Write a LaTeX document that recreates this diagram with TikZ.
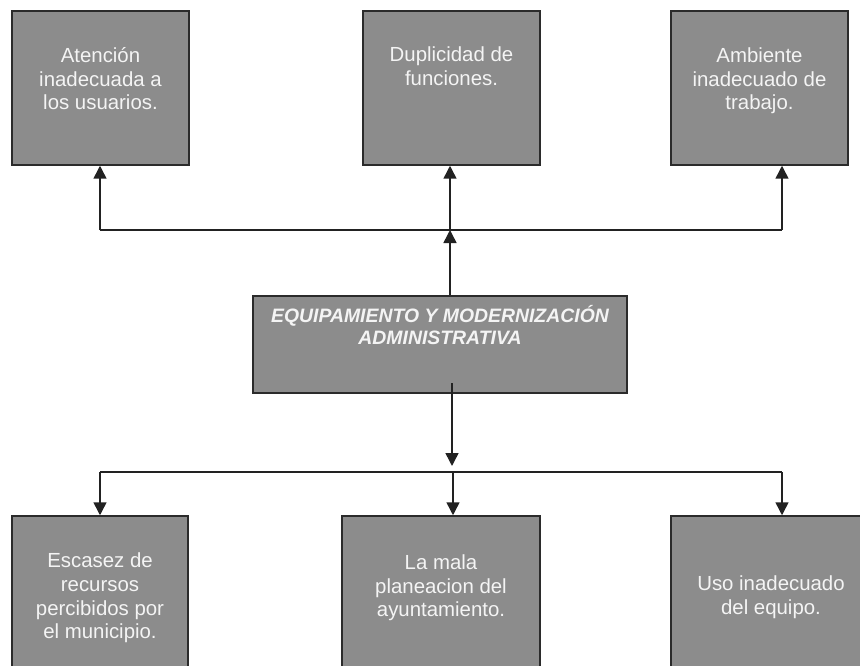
\documentclass[tikz,border=0pt]{standalone}
\usepackage{fontspec}
\setmainfont{Liberation Sans}
\usetikzlibrary{arrows.meta,calc}
\definecolor{boxfill}{HTML}{8C8C8C}
\definecolor{boxline}{HTML}{2B2B2B}
\definecolor{txtcol}{HTML}{F4F4F4}
\definecolor{linecol}{HTML}{222222}
\begin{document}
\begin{tikzpicture}[x=1pt,y=-1pt,
  box/.style={draw=boxline, line width=1.5pt, fill=boxfill, inner sep=0pt, rectangle},
  lbl/.style={text=txtcol, align=center, inner sep=0pt, font=\fontsize{20.4}{23.6}\selectfont},
  mainlbl/.style={text=txtcol, align=center, inner sep=0pt, font=\fontsize{19.4}{22.3}\selectfont\bfseries\itshape},
  conn/.style={draw=linecol, line width=1.5pt},
  arr/.style={conn, -{Triangle[length=13pt,width=13pt]}}
]
\useasboundingbox (0,0) rectangle (860,666);
\fill[white] (0,0) rectangle (860,666);
\clip (0,0) rectangle (860,666);

% top boxes
\node[box, minimum width=177pt, minimum height=154pt] (A) at (100.5,88) {};
\node[box, minimum width=177pt, minimum height=154pt] (B) at (451.5,88) {};
\node[box, minimum width=177pt, minimum height=154pt] (C) at (759.5,88) {};
% central box
\node[box, minimum width=374pt, minimum height=97pt] (E) at (440,344.5) {};
% bottom boxes
\node[box, minimum width=176pt, minimum height=184pt] (F) at (100,608) {};
\node[box, minimum width=198pt, minimum height=184pt] (G) at (441,608) {};
\node[box, minimum width=209pt, minimum height=184pt] (H) at (775.5,608) {};

% texts
\node[lbl] (tA) at (100.5,81.6) {\strut Atención\\\strut inadecuada a\\\strut los usuarios.};
\node[lbl] (tB) at (451.5,69) {\strut Duplicidad de\\\strut funciones.};
\node[lbl] (tC) at (759.5,81.6) {\strut Ambiente\\\strut inadecuado de\\\strut trabajo.};
\node[mainlbl] (tE) at (440,328.4) {\strut EQUIPAMIENTO Y MODERNIZACIÓN\\\strut ADMINISTRATIVA};
\node[lbl] (tF) at (100,598.6) {\strut Escasez de\\\strut recursos\\\strut percibidos por\\\strut el municipio.};
\node[lbl] (tG) at (441,588.6) {\strut La mala\\\strut planeacion del\\\strut ayuntamiento.};
\node[lbl] (tH) at (771,597.6) {\strut Uso inadecuado\\\strut del equipo.};

% junction coordinates
\coordinate (tl) at (100,230);
\coordinate (tm) at (450,230);
\coordinate (tr) at (782,230);
\coordinate (bl) at (100,472);
\coordinate (bm) at (453,472);
\coordinate (br) at (782,472);
\coordinate (ds) at (452,383);
\coordinate (de) at (452,466);

% upper connectors
\draw[conn] (tl) -- (tr);
\draw[arr] (tl) -- (tl |- A.south);
\draw[arr] (tm) -- (tm |- B.south);
\draw[arr] (tr) -- (tr |- C.south);
\draw[arr] (E.north -| tm) -- (tm);

% lower connectors
\draw[arr] (ds) -- (de);
\draw[conn] (bl) -- (br);
\draw[arr] (bl) -- (bl |- F.north);
\draw[arr] (bm) -- (bm |- G.north);
\draw[arr] (br) -- (br |- H.north);
\end{tikzpicture}
\end{document}
